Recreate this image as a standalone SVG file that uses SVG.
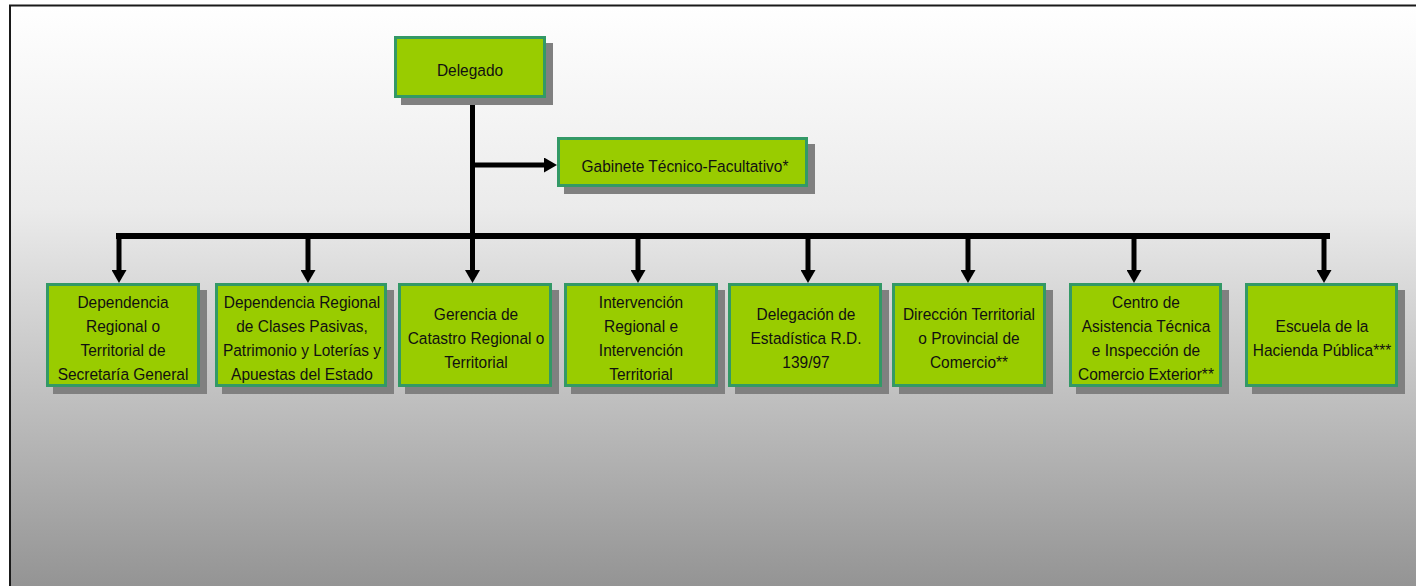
<svg xmlns="http://www.w3.org/2000/svg" width="1416" height="586" viewBox="0 0 1416 586">
<defs>
<linearGradient id="bg" x1="0" y1="0" x2="0" y2="1">
<stop offset="0" stop-color="#ffffff"/>
<stop offset="0.35" stop-color="#ebebeb"/>
<stop offset="1" stop-color="#949494"/>
</linearGradient>
<marker id="ah" markerUnits="userSpaceOnUse" markerWidth="14" markerHeight="15" refX="0" refY="7.5" orient="auto">
<path d="M0,0 L13,7.5 L0,15 z" fill="#000"/>
</marker>
<style>
.box{fill:#99cc00;stroke:#339966;stroke-width:3}
.sh{fill:#808080}
.t{font-family:"Liberation Sans",Arial,sans-serif;font-size:17px;fill:#111;text-anchor:middle}
.ln{stroke:#000;stroke-width:5;fill:none}
</style>
</defs>
<rect x="0" y="0" width="1416" height="586" fill="#fff"/>
<rect x="10" y="5" width="1406" height="581" fill="url(#bg)"/>
<path d="M10,586 V5.5 H1416" fill="none" stroke="#1a1a1a" stroke-width="2"/>

<g id="connectors">
<path class="ln" d="M472.5,98 V236"/>
<path class="ln" d="M472.5,165 H544" marker-end="url(#ah)"/>
<rect x="116" y="233" width="1214" height="6" fill="#000"/>
<path class="ln" d="M119,236 V270" marker-end="url(#ah)"/>
<path class="ln" d="M308,236 V270" marker-end="url(#ah)"/>
<path class="ln" d="M472.5,236 V270" marker-end="url(#ah)"/>
<path class="ln" d="M638,236 V270" marker-end="url(#ah)"/>
<path class="ln" d="M808,236 V270" marker-end="url(#ah)"/>
<path class="ln" d="M968,236 V270" marker-end="url(#ah)"/>
<path class="ln" d="M1134,236 V270" marker-end="url(#ah)"/>
<path class="ln" d="M1324,236 V270" marker-end="url(#ah)"/>
</g>

<g id="n-delegado">
<rect class="sh" x="401" y="43" width="152" height="62"/>
<rect class="box" x="395.5" y="37.5" width="149" height="59"/>
<text class="t" transform="translate(470 0) scale(0.91 1)"><tspan x="0" y="76">Delegado</tspan></text>
</g>

<g id="n-gabinete">
<rect class="sh" x="564" y="144" width="251" height="50"/>
<rect class="box" x="558.5" y="138.5" width="248" height="47"/>
<text class="t" transform="translate(685 0) scale(0.91 1)"><tspan x="0" y="172">Gabinete Técnico-Facultativo*</tspan></text>
</g>

<g id="n1">
<rect class="sh" x="53" y="290" width="154" height="104"/>
<rect class="box" x="47.5" y="284.5" width="151" height="101"/>
<text class="t" transform="translate(123 0) scale(0.91 1)"><tspan x="0" y="308">Dependencia</tspan><tspan x="0" y="332">Regional o</tspan><tspan x="0" y="356">Territorial de</tspan><tspan x="0" y="380">Secretaría General</tspan></text>
</g>

<g id="n2">
<rect class="sh" x="222" y="290" width="172" height="104"/>
<rect class="box" x="216.5" y="284.5" width="169" height="101"/>
<text class="t" transform="translate(302 0) scale(0.91 1)"><tspan x="0" y="308">Dependencia Regional</tspan><tspan x="0" y="332">de Clases Pasivas,</tspan><tspan x="0" y="356">Patrimonio y Loterías y</tspan><tspan x="0" y="380">Apuestas del Estado</tspan></text>
</g>

<g id="n3">
<rect class="sh" x="405" y="290" width="154" height="104"/>
<rect class="box" x="399.5" y="284.5" width="151" height="101"/>
<text class="t" transform="translate(476 0) scale(0.91 1)"><tspan x="0" y="320">Gerencia de</tspan><tspan x="0" y="344">Catastro Regional o</tspan><tspan x="0" y="368">Territorial</tspan></text>
</g>

<g id="n4">
<rect class="sh" x="571" y="290" width="154" height="104"/>
<rect class="box" x="565.5" y="284.5" width="151" height="101"/>
<text class="t" transform="translate(641 0) scale(0.91 1)"><tspan x="0" y="308">Intervención</tspan><tspan x="0" y="332">Regional e</tspan><tspan x="0" y="356">Intervención</tspan><tspan x="0" y="380">Territorial</tspan></text>
</g>

<g id="n5">
<rect class="sh" x="735" y="290" width="154" height="104"/>
<rect class="box" x="729.5" y="284.5" width="151" height="101"/>
<text class="t" transform="translate(806 0) scale(0.91 1)"><tspan x="0" y="320">Delegación de</tspan><tspan x="0" y="344">Estadística R.D.</tspan><tspan x="0" y="368">139/97</tspan></text>
</g>

<g id="n6">
<rect class="sh" x="899" y="290" width="154" height="104"/>
<rect class="box" x="893.5" y="284.5" width="151" height="101"/>
<text class="t" transform="translate(969 0) scale(0.91 1)"><tspan x="0" y="320">Dirección Territorial</tspan><tspan x="0" y="344">o Provincial de</tspan><tspan x="0" y="368">Comercio**</tspan></text>
</g>

<g id="n7">
<rect class="sh" x="1076" y="290" width="153" height="104"/>
<rect class="box" x="1070.5" y="284.5" width="150" height="101"/>
<text class="t" transform="translate(1146 0) scale(0.91 1)"><tspan x="0" y="308">Centro de</tspan><tspan x="0" y="332">Asistencia Técnica</tspan><tspan x="0" y="356">e Inspección de</tspan><tspan x="0" y="380">Comercio Exterior**</tspan></text>
</g>

<g id="n8">
<rect class="sh" x="1252" y="290" width="153" height="104"/>
<rect class="box" x="1246.5" y="284.5" width="150" height="101"/>
<text class="t" transform="translate(1322 0) scale(0.91 1)"><tspan x="0" y="332">Escuela de la</tspan><tspan x="0" y="356">Hacienda Pública***</tspan></text>
</g>
</svg>
